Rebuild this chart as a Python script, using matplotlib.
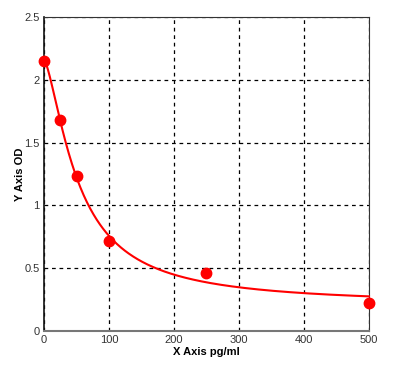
import numpy as np
import matplotlib
matplotlib.use("Agg")
import matplotlib.pyplot as plt

# Data
conc = [0, 25, 50, 100, 250, 500]          # pg/ml
od = [2.152, 1.682, 1.232, 0.72, 0.464, 0.225]
x_ticks = [0, 100, 200, 300, 400, 500]
y_ticks = [0, 0.5, 1, 1.5, 2, 2.5]
y_tick_labels = ["0", "0.5", "1", "1.5", "2", "2.5"]

# 4-parameter logistic fit (grid over b, c; linear least squares for a, d)
xd = np.array(conc, float)
yd = np.array(od, float)
best = None
for b in np.linspace(0.5, 3.0, 251):
    for c in np.linspace(10, 600, 591):
        g = 1.0 / (1.0 + (xd / c) ** b)
        A = np.column_stack([g, 1 - g])
        coef, *_ = np.linalg.lstsq(A, yd, rcond=None)
        r = np.sum((A @ coef - yd) ** 2)
        if best is None or r < best[0]:
            best = (r, b, c, coef)
_, b, c, (a, d) = best
xf = np.linspace(0, 500, 500)
gf = 1.0 / (1.0 + (xf / c) ** b)
yf = a * gf + d * (1 - gf)

plt.rcParams['font.family'] = ['Liberation Sans', 'DejaVu Sans']
fig = plt.figure(figsize=(4.06, 3.89), dpi=100)
ax = fig.add_axes([44/406, 1-331/389, (369-44)/406, (331-17)/389])

ax.plot(xf, yf, color='#ff0000', lw=1.5, zorder=3, clip_on=False)
ax.plot(conc, od, 'o', color='#ff0000', ms=7.5, zorder=4, clip_on=False)

ax.set_xlim(0, 500)
ax.set_ylim(0, 2.5)
ax.set_xticks(x_ticks)
ax.set_yticks(y_ticks)
ax.set_yticklabels(y_tick_labels)
ax.tick_params(length=0, labelsize=8, colors='#333333', pad=3)
ax.grid(True, color='black', linestyle=(0, (3, 3)), linewidth=0.9)
ax.set_axisbelow(True)
for s in ['top', 'right']:
    ax.spines[s].set_linewidth(0.8)
    ax.spines[s].set_color('#333333')
ax.spines['left'].set_linewidth(1.2)
ax.spines['left'].set_color('#111111')
ax.spines['bottom'].set_linewidth(1.5)
ax.spines['bottom'].set_color('#777777')

ax.set_xlabel('X Axis pg/ml', fontsize=8, fontweight='bold')
ax.set_ylabel('Y Axis OD', fontsize=8, fontweight='bold')
ax.xaxis.set_label_coords(0.5, -21/314, transform=ax.transAxes)
ax.yaxis.set_label_coords(-24/325, 0.5, transform=ax.transAxes)
ax.xaxis.label.set_va('center')
ax.yaxis.label.set_va('center')

fig.savefig('out.png', dpi=100, facecolor='white')
